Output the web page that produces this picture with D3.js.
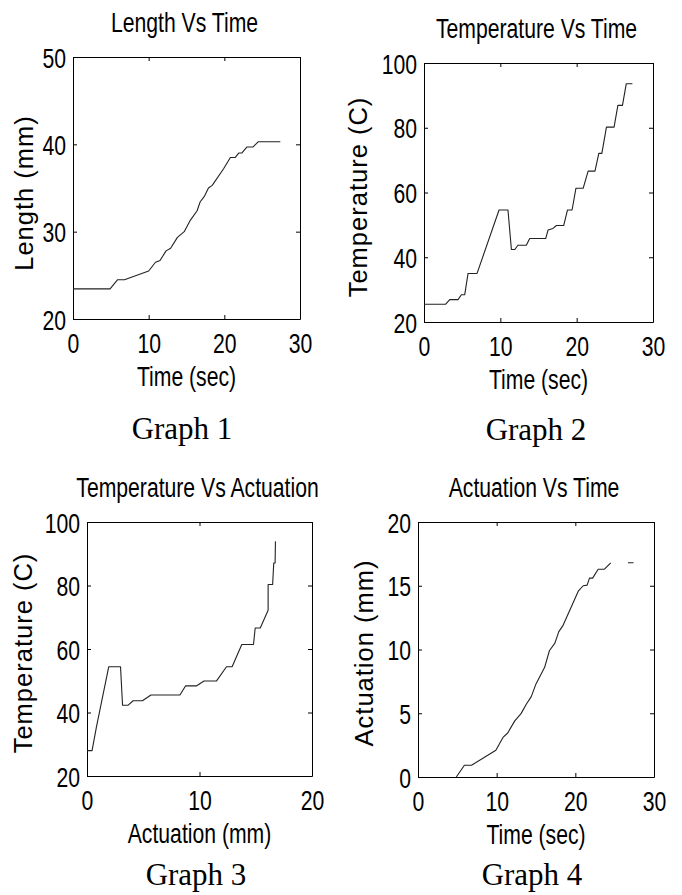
<!DOCTYPE html>
<html><head><meta charset="utf-8">
<script src="https://cdn.jsdelivr.net/npm/d3@7"></script>
<style>body{margin:0;background:#fff} svg{display:block}</style>
</head><body>
<svg id="c" width="682" height="895"></svg>
<script>
// ---- Data ----
const g1Time   = [0,4.9,5.9,6.8,10,10.9,11.5,12.3,12.9,13.8,14.7,15.5,16.4,16.8,17.4,17.9,18.4,19.9,20.8,21.45,21.9,22.3,23,23.8,24.5,27.4];
const g1Length = [23.45,23.45,24.5,24.5,25.5,26.5,26.7,27.8,28.1,29.35,30,31.3,32.4,33.4,34.1,35,35.3,37.2,38.5,38.5,39,39,39.7,39.7,40.3,40.3];

const g2Time = [0,2.84,3.37,4.46,4.9,5.33,5.77,6.95,9.83,11.0,11.45,11.9,12.3,13.4,13.85,15.95,16.25,16.9,17.35,18.3,18.8,19.4,19.9,20.85,21.5,22.4,22.9,23.3,23.9,24.9,25.4,26.0,26.5,27.3];
const g2Temp = [25.5,25.5,26.9,26.9,28.4,28.4,35,35,54.6,54.6,42.4,42.4,43.7,43.7,45.8,45.8,48.4,48.9,49.8,49.8,54.6,54.6,61.3,61.3,66.6,66.6,72.1,72.1,80.2,80.2,86.9,86.9,93.6,93.6];

const g3Act  = [0,0.45,0.84,1.93,2.98,3.16,3.66,4.1,4.93,5.68,8.26,8.77,9.75,10.4,11.5,12.4,12.9,13.76,14.8,14.95,15.4,16.1,16.1,16.5,16.6,16.72,16.75];
const g3Temp = [28,28,35.5,54.4,54.4,42.3,42.3,43.7,43.7,45.5,45.5,48.4,48.4,49.9,49.9,54.4,54.4,61.4,61.4,66.6,66.6,72.2,80.3,80.3,87.1,87.1,93.9];

const g4Time = [4.87,5.9,6.8,9.9,10.8,11.4,12.3,13.1,13.8,14.4,15.0,16.1,16.7,17.4,17.9,18.4,20.4,21.0,21.5,21.8,22.2,22.9,23.7,24.5,25.6,26.7,27.4];
const g4Act  = [0,0.92,0.92,2.1,3.1,3.45,4.4,4.97,5.75,6.3,7.3,8.6,9.9,10.5,11.4,11.85,14.6,15.0,15.05,15.6,15.6,16.3,16.3,16.8,null,16.8,16.8];

// ---- Tick values ----
const ticksTime30 = [0,10,20,30];
const ticksLen    = [20,30,40,50];
const ticksTemp   = [20,40,60,80,100];
const ticksAct20  = [0,10,20];
const ticksAct5   = [0,5,10,15,20];

// ---- Text ----
const titles  = ["Length Vs Time","Temperature Vs Time","Temperature Vs Actuation","Actuation Vs Time"];
const xLabels = ["Time (sec)","Time (sec)","Actuation (mm)","Time (sec)"];
const yLabels = ["Length (mm)","Temperature (C)","Temperature (C)","Actuation (mm)"];
const captions = ["Graph 1","Graph 2","Graph 3","Graph 4"];

// ---- Layout (positions only) ----
const panels = [
  {L:73,  R:300, T:57,  B:319, xd:[0,30], yd:[20,50],  xt:ticksTime30, yt:ticksLen,  xs:g1Time, ys:g1Length, ylx:33,  yly:193, cap:[182,439]},
  {L:424, R:653, T:63,  B:322, xd:[0,30], yd:[20,100], xt:ticksTime30, yt:ticksTemp, xs:g2Time, ys:g2Temp,   ylx:367, yly:197, cap:[536,440]},
  {L:87,  R:312, T:522, B:776, xd:[0,20], yd:[20,100], xt:ticksAct20,  yt:ticksTemp, xs:g3Act,  ys:g3Temp,   ylx:32,  yly:653, cap:[196,885]},
  {L:418, R:654, T:522, B:777, xd:[0,30], yd:[0,20],   xt:ticksTime30, yt:ticksAct5, xs:g4Time, ys:g4Act,    ylx:373, yly:653, cap:[532,885]}
];

const svg = d3.select("#c");
const SANS = "'Liberation Sans', Arial, Helvetica, sans-serif";
const FS = 27.5, SX = 0.77;

function styleAxis(g){
  g.attr("font-family", SANS).attr("font-size", FS);
  g.selectAll(".domain").attr("stroke","#000").attr("stroke-width",1);
  g.selectAll(".tick line").attr("stroke","#000").attr("stroke-width",1);
  g.selectAll("text").attr("fill","#000");
}

panels.forEach((p,i) => {
  const x = d3.scaleLinear().domain(p.xd).range([p.L,p.R]);
  const y = d3.scaleLinear().domain(p.yd).range([p.B,p.T]);
  const g = svg.append("g");

  const gb = g.append("g").attr("transform",`translate(0,${p.B})`)
    .call(d3.axisBottom(x).tickValues(p.xt).tickSizeInner(-4).tickSizeOuter(0).tickFormat(d3.format("d")));
  styleAxis(gb);
  gb.selectAll("text").attr("y",0).attr("dy",null).attr("transform",`translate(0,34) scale(${SX},1)`);

  const gt = g.append("g").attr("transform",`translate(0,${p.T})`)
    .call(d3.axisTop(x).tickValues(p.xt).tickSizeInner(-4).tickSizeOuter(0).tickFormat(""));
  styleAxis(gt);

  const gl = g.append("g").attr("transform",`translate(${p.L},0)`)
    .call(d3.axisLeft(y).tickValues(p.yt).tickSizeInner(-4).tickSizeOuter(0).tickFormat(d3.format("d")));
  styleAxis(gl);
  gl.selectAll("text").attr("x",0).attr("dy",null).attr("transform",`translate(-7,10) scale(${SX},1)`);

  const gr = g.append("g").attr("transform",`translate(${p.R},0)`)
    .call(d3.axisRight(y).tickValues(p.yt).tickSizeInner(-4).tickSizeOuter(0).tickFormat(""));
  styleAxis(gr);

  const pts = p.xs.map((v,k)=>({x:v, y:p.ys[k]}));
  const line = d3.line().defined(d=>d.y!==null).x(d=>x(d.x)).y(d=>y(d.y));
  g.append("path").datum(pts).attr("d",line).attr("fill","none")
    .attr("stroke","#222").attr("stroke-width",1.1).attr("stroke-linejoin","round");

  const cx = (p.L+p.R)/2;
  g.append("text").text(titles[i]).attr("font-family",SANS).attr("font-size",FS)
    .attr("text-anchor","middle").attr("transform",`translate(${cx-2},${p.T-25}) scale(${SX},1)`);
  g.append("text").text(xLabels[i]).attr("font-family",SANS).attr("font-size",FS)
    .attr("text-anchor","middle").attr("transform",`translate(${cx},${p.B+67}) scale(${SX},1)`);
  g.append("text").text(yLabels[i]).attr("font-family",SANS).attr("font-size",25.5)
    .attr("letter-spacing",1).attr("text-anchor","middle")
    .attr("transform",`translate(${p.ylx},${p.yly}) rotate(-90)`);
  g.append("text").text(captions[i]).attr("font-family","'Liberation Serif', 'Times New Roman', serif")
    .attr("font-size",31).attr("text-anchor","middle")
    .attr("x",p.cap[0]).attr("y",p.cap[1]);
});
</script>
</body></html>
